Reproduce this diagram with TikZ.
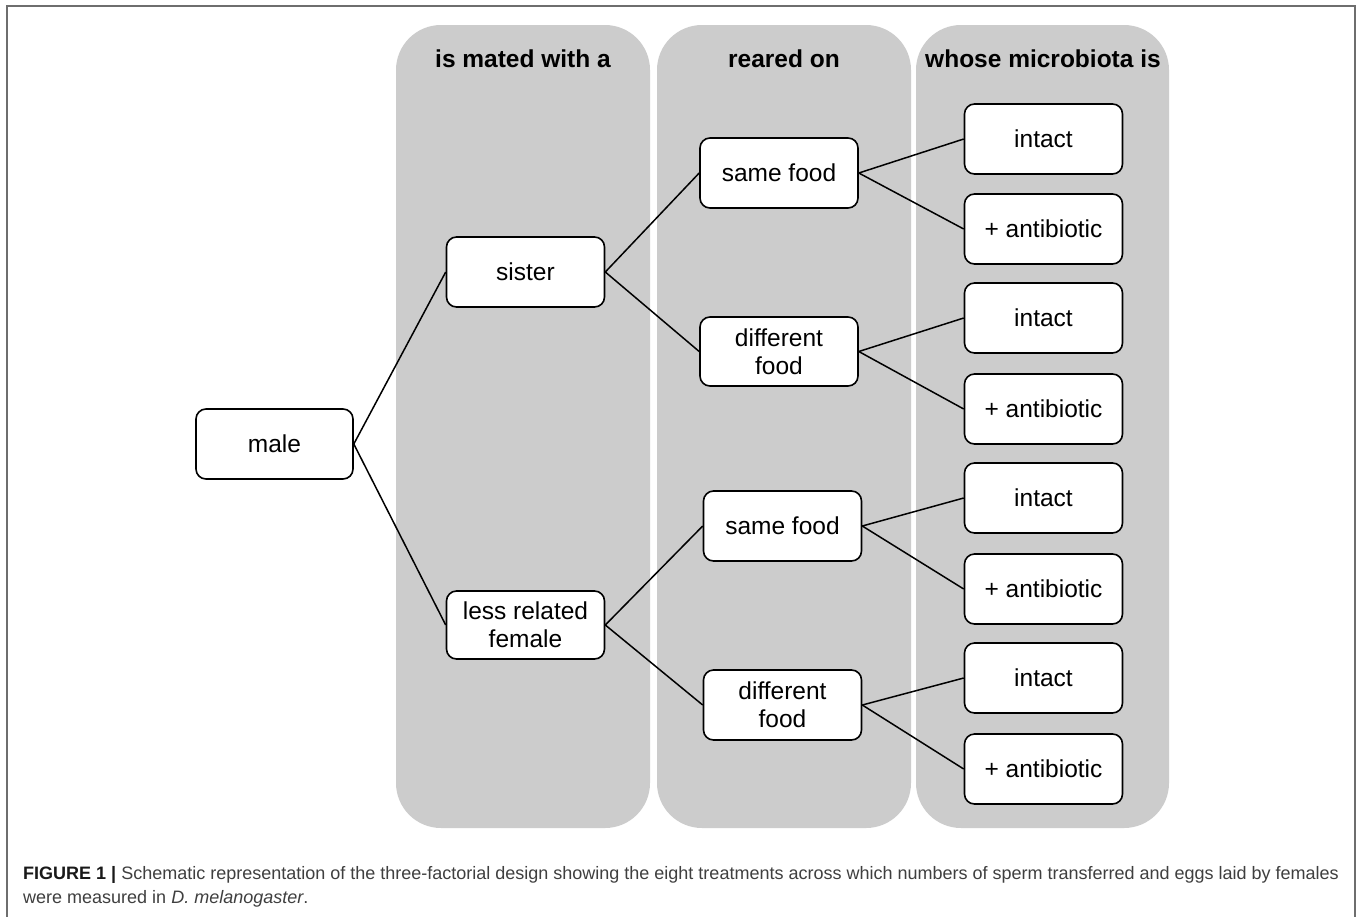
\documentclass[tikz,border=0pt]{standalone}
\usepackage{fontspec}
\setmainfont{Liberation Sans}[Ligatures=NoCommon]
\definecolor{panelgray}{HTML}{CCCCCC}
\definecolor{framegray}{HTML}{6E6E6E}
\definecolor{captext}{HTML}{3F3F3F}
\begin{document}
\begin{tikzpicture}[x=1pt,y=-1pt,
  panel/.style={fill=panelgray,draw=none,rounded corners=45pt},
  header/.style={font=\fontsize{24.5}{28}\selectfont\bfseries,anchor=center,inner sep=0pt},
  box/.style={draw=black,fill=white,line width=1.6pt,rounded corners=10pt,
    minimum width=158pt,minimum height=70pt,align=center,inner sep=0pt,
    font=\fontsize{24.5}{28}\selectfont},
  link/.style={draw=black,line width=1.5pt},
  captxt/.style={anchor=base west,inner sep=0pt,font=\fontsize{18}{22}\selectfont,text=captext}]
\useasboundingbox (0,0) rectangle (1357,916);
\fill[white] (0,0) rectangle (1357,916);
% frame
\draw[framegray,line width=1.5pt] (7,920) -- (7,6) -- (1355,6) -- (1355,920);
% panels
\path[panel] (396,25) rectangle (650,828);
\path[panel] (657,25) rectangle (911,828);
\path[panel] (916,25) rectangle (1169,828);
% headers
\node[header] (h1) at (523,59) {is mated with a};
\node[header] (h2) at (784,59) {reared on};
\node[header] (h3) at (1043,59) {whose microbiota is};
% nodes
\node[box,minimum width=157pt] (male) at (274.5,444) {male};
\node[box] (sis) at (525.5,272) {sister};
\node[box,minimum height=68pt] (lrf) at (525.5,625) {less related\\female};
\node[box] (sf1) at (779,173) {same food};
\node[box,minimum height=69pt] (df1) at (779,351.5) {different\\food};
\node[box] (sf2) at (782.5,526) {same food};
\node[box] (df2) at (782.5,705) {different\\food};
\node[box] (r1) at (1043.5,139) {intact};
\node[box] (r2) at (1043.5,229) {+ antibiotic};
\node[box] (r3) at (1043.5,318) {intact};
\node[box] (r4) at (1043.5,409) {+ antibiotic};
\node[box] (r5) at (1043.5,498) {intact};
\node[box] (r6) at (1043.5,589) {+ antibiotic};
\node[box] (r7) at (1043.5,678) {intact};
\node[box] (r8) at (1043.5,769) {+ antibiotic};
% connectors
\draw[link] (male.east) -- (sis.west);
\draw[link] (male.east) -- (lrf.west);
\draw[link] (sis.east) -- (sf1.west);
\draw[link] (sis.east) -- (df1.west);
\draw[link] (lrf.east) -- (sf2.west);
\draw[link] (lrf.east) -- (df2.west);
\draw[link] (sf1.east) -- (r1.west);
\draw[link] (sf1.east) -- (r2.west);
\draw[link] (df1.east) -- (r3.west);
\draw[link] (df1.east) -- (r4.west);
\draw[link] (sf2.east) -- (r5.west);
\draw[link] (sf2.east) -- (r6.west);
\draw[link] (df2.east) -- (r7.west);
\draw[link] (df2.east) -- (r8.west);
% caption
\node[captxt] (cap1) at (23,879) {\textcolor{black!90}{\bfseries FIGURE 1 |} Schematic representation of the three-factorial design showing the eight treatments across which numbers of sperm transferred and eggs laid by females};
\node[captxt] (cap2) at (23,903) {were measured in \textit{D. melanogaster}.};
\end{tikzpicture}
\end{document}
